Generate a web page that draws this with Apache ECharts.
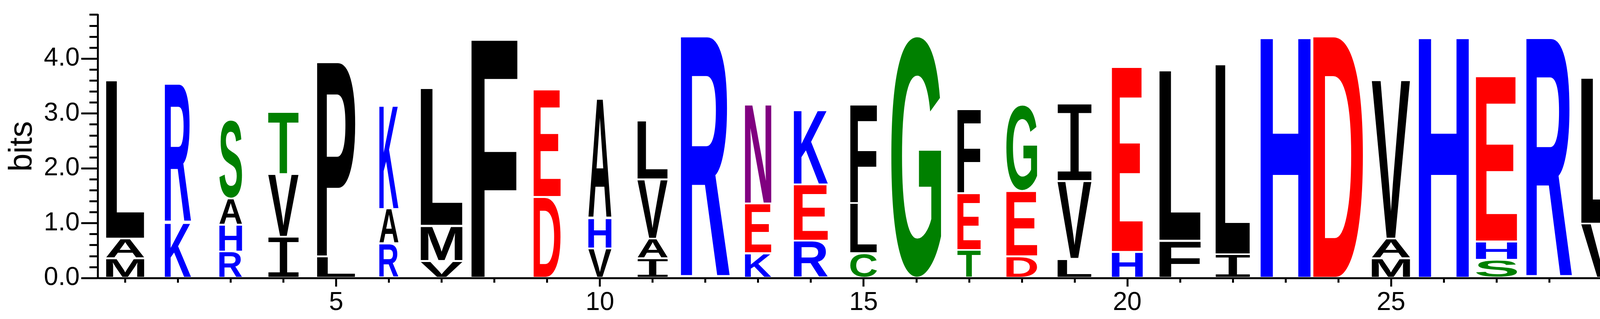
<!DOCTYPE html>
<html>
<head>
<meta charset="utf-8">
<script src="https://cdn.jsdelivr.net/npm/echarts@6/dist/echarts.min.js"></script>
<style>
  html, body { margin: 0; padding: 0; background: #fff; }
  #chart { width: 4525px; height: 817px; }
</style>
</head>
<body>
<div id="chart"></div>
<script>
const positions = [1,2,3,4,5,6,7,8,9,10,11,12,13,14,15,16,17,18,19,20,21,22,23,24,25,26,27,28,29,30,31];
// stack width of every column, in position units
const stackWidths = [0.726,0.499,0.431,0.578,0.726,0.363,0.794,0.873,0.514,0.438,0.574,0.930,0.499,0.646,0.506,
                     0.949,0.442,0.586,0.646,0.586,0.783,0.654,0.949,0.949,0.729,0.949,0.782,0.869,0.786,0.661,0.915];
// letters of every column, bottom to top
const stackLetters = ['MAL','KR','RHAS','IVT','LP','RAK','VML','F','DE','VHA','IAVL','R','KEN','REK','CLF',
                      'G','TEF','DEG','LVI','HE','FL','IL','H','D','MAV','H','SHE','R','VL','SQT','P'];
// heights (bits) of those letters, bottom to top
const stackHeights = [
  [0.361,0.358,2.875],
  [1.013,2.518],
  [0.484,0.486,0.479,1.423],
  [0.752,1.140,1.125],
  [0.395,3.557],
  [0.626,0.633,1.881],
  [0.313,0.640,2.500],
  [4.369],
  [1.479,1.947],
  [0.536,0.552,2.167],
  [0.357,0.358,1.084,1.054],
  [4.399],
  [0.451,0.908,1.803],
  [0.682,1.024,1.348],
  [0.454,0.913,1.795],
  [4.399],
  [0.510,1.039,1.527],
  [0.395,1.192,1.560],
  [0.350,1.419,1.397],
  [0.477,3.363],
  [0.682,3.095],
  [0.432,3.456],
  [4.399],
  [4.399],
  [0.358,0.361,2.879],
  [4.399],
  [0.331,0.336,3.002],
  [4.369],
  [0.991,2.648],
  [0.402,0.384,2.734],
  [4.399]
];
const yMinorTicks = [0,0.2,0.4,0.6,0.8,1,1.2,1.4,1.6,1.8,2,2.2,2.4,2.6,2.8,3,3.2,3.4,3.6,3.8,4,4.2,4.4,4.6,4.8];
const yMajorTicks = [0,1,2,3,4];
const xTicks = [1,2,3,4,5,6,7,8,9,10,11,12,13,14,15,16,17,18,19,20,21,22,23,24,25,26,27,28,29,30,31];
const xLabelTicks = [5,10,15,20,25,30];

// ---- styles ----
const letterColors = {
  L:'#000000', A:'#000000', M:'#000000', V:'#000000', I:'#000000', P:'#000000', F:'#000000',
  R:'#0000ff', K:'#0000ff', H:'#0000ff',
  E:'#ff0000', D:'#ff0000',
  S:'#008000', T:'#008000', G:'#008000', C:'#008000',
  N:'#800080', Q:'#800080'
};
const GAP = 4.5;       // px between stacked letters
const BASE_PAD = 3;    // px between bottom letter and axis line centre
const FS = 200;

const mctx = document.createElement('canvas').getContext('2d');
const metricCache = {};
function glyphMetrics(ch) {
  if (metricCache[ch]) return metricCache[ch];
  const font = (ch === 'I') ? ('normal ' + FS + 'px "DejaVu Sans Mono"') : ('bold ' + FS + 'px "Liberation Sans"');
  mctx.font = font;
  mctx.textBaseline = 'middle';
  mctx.textAlign = 'left';
  const m = mctx.measureText(ch);
  const r = {
    font: font,
    left: m.actualBoundingBoxLeft,
    w: m.actualBoundingBoxLeft + m.actualBoundingBoxRight,
    asc: m.actualBoundingBoxAscent,
    h: m.actualBoundingBoxAscent + m.actualBoundingBoxDescent
  };
  metricCache[ch] = r;
  return r;
}

// build glyph items from the arrays
const glyphItems = [];
positions.forEach(function (pos, ci) {
  const letters = stackLetters[ci];
  const hs = stackHeights[ci];
  let base = 0;
  for (let k = 0; k < letters.length; k++) {
    glyphItems.push({
      value: [pos, base, hs[k], stackWidths[ci], k === 0 ? 1 : 0, k === letters.length - 1 ? 1 : 0],
      ch: letters[k]
    });
    base += hs[k];
  }
});

const chart = echarts.init(document.getElementById('chart'), null, { renderer: 'canvas' });

const axisFont = '"Liberation Sans", Arial, sans-serif';

chart.setOption({
  animation: false,
  backgroundColor: '#ffffff',
  grid: { left: 253, right: 86.5, top: 37.7, bottom: 105, containLabel: false, outerBoundsMode: 'none' },
  xAxis: [
    {
      type: 'value', min: 0.5, max: 31.5, position: 'bottom',
      axisLine: { show: true, onZero: false, lineStyle: { color: '#000', width: 5 } },
      axisTick: { show: true, customValues: xTicks, length: 12, lineStyle: { color: '#000', width: 5 } },
      axisLabel: { show: true, customValues: xLabelTicks, margin: 31, color: '#000', fontSize: 66, fontFamily: axisFont },
      splitLine: { show: false }
    },
    {
      type: 'value', min: 0.5, max: 31.5, position: 'bottom', gridIndex: 0,
      axisLine: { show: false, onZero: false },
      axisTick: { show: true, customValues: xLabelTicks, length: 22, lineStyle: { color: '#000', width: 5 } },
      axisLabel: { show: false },
      splitLine: { show: false }
    }
  ],
  yAxis: [
    {
      type: 'value', min: 0, max: 4.8, position: 'left', offset: 3,
      axisLine: { show: true, onZero: false, lineStyle: { color: '#000', width: 5 } },
      axisTick: { show: true, customValues: yMinorTicks, length: 21, lineStyle: { color: '#000', width: 5 } },
      axisLabel: { show: false },
      splitLine: { show: false }
    },
    {
      type: 'value', min: 0, max: 4.8, position: 'left', offset: 3,
      name: 'bits', nameLocation: 'middle', nameGap: 150, nameMoveOverlap: false,
      nameTextStyle: { color: '#000', fontSize: 83, fontFamily: axisFont },
      axisLine: { show: false, onZero: false },
      axisTick: { show: true, customValues: yMajorTicks, length: 42, lineStyle: { color: '#000', width: 5 } },
      axisLabel: {
        show: true, customValues: yMajorTicks, margin: 46, color: '#000', fontSize: 66, fontFamily: axisFont,
        formatter: function (v) { return Number(v).toFixed(1); }
      },
      splitLine: { show: false }
    }
  ],
  series: [{
    type: 'custom',
    xAxisIndex: 0,
    yAxisIndex: 0,
    silent: true,
    clip: false,
    z: 3,
    encode: { x: 0, y: 1 },
    data: glyphItems.map(function (g) { return g.value; }),
    renderItem: function (params, api) {
      const item = glyphItems[params.dataIndex];
      const ch = item.ch;
      const pos = api.value(0), base = api.value(1), h = api.value(2), w = api.value(3);
      const isFirst = api.value(4) === 1, isLast = api.value(5) === 1;
      const pTL = api.coord([pos - w / 2, base + h]);
      const pBR = api.coord([pos + w / 2, base]);
      const top = pTL[1] + (isLast ? 0 : GAP / 2);
      const bottom = pBR[1] - (isFirst ? BASE_PAD : GAP / 2);
      const m = glyphMetrics(ch);
      const sx = (pBR[0] - pTL[0]) / m.w;
      const sy = (bottom - top) / m.h;
      return {
        type: 'text',
        x: pTL[0] + sx * m.left,
        y: top + sy * m.asc,
        scaleX: sx,
        scaleY: sy,
        style: {
          text: ch, x: 0, y: 0,
          font: m.font,
          fill: letterColors[ch] || '#000',
          align: 'left', textAlign: 'left',
          verticalAlign: 'middle', textVerticalAlign: 'middle',
          lineWidth: 0
        }
      };
    }
  }]
});
</script>
</body>
</html>
